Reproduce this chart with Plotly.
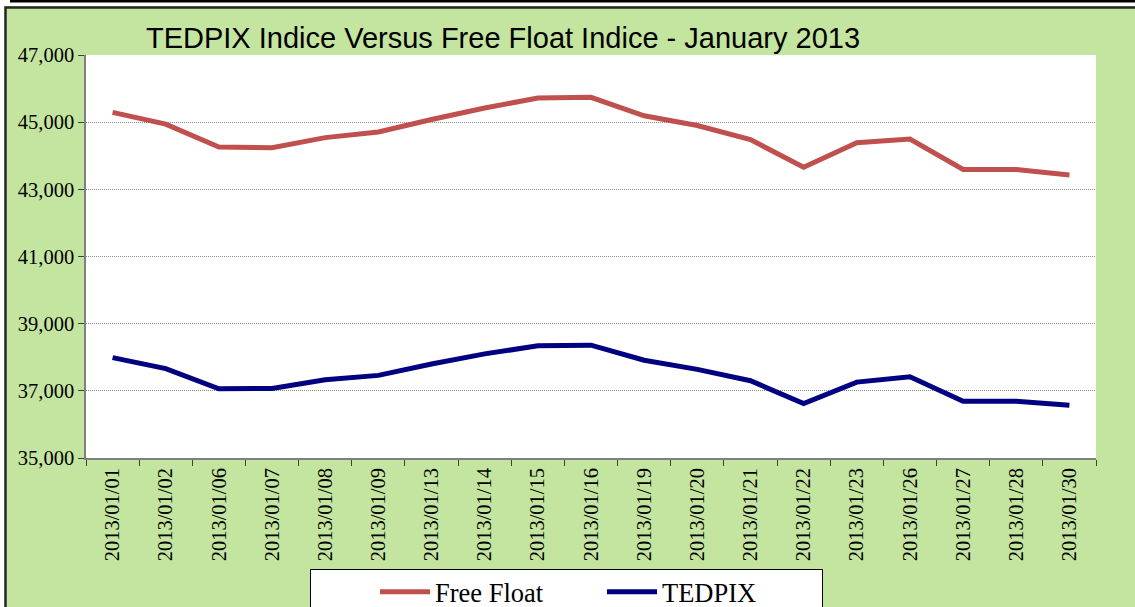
import plotly.graph_objects as go

dates = ["2013/01/01", "2013/01/02", "2013/01/06", "2013/01/07", "2013/01/08",
         "2013/01/09", "2013/01/13", "2013/01/14", "2013/01/15", "2013/01/16",
         "2013/01/19", "2013/01/20", "2013/01/21", "2013/01/22", "2013/01/23",
         "2013/01/26", "2013/01/27", "2013/01/28", "2013/01/30"]
free_float = [45290, 44940, 44260, 44240, 44540, 44710, 45080, 45420, 45720, 45740,
              45190, 44900, 44480, 43660, 44390, 44500, 43590, 43590, 43430]
tedpix = [37990, 37660, 37060, 37070, 37330, 37460, 37800, 38100, 38340, 38360,
          37910, 37640, 37300, 36620, 37260, 37420, 36690, 36690, 36570]
y_ticks = [35000, 37000, 39000, 41000, 43000, 45000, 47000]

W, H = 1135, 607
L, R, T, B = 86, 1096, 55, 458

def px(x):
    return (x - L) / (R - L)

def py(y):
    return (B - y) / (B - T)

fig = go.Figure()
fig.add_trace(go.Scatter(x=dates, y=free_float, mode="lines", name="Free Float",
                         line=dict(color="#C0504D", width=5)))
fig.add_trace(go.Scatter(x=dates, y=tedpix, mode="lines", name="TEDPIX",
                         line=dict(color="#000080", width=5)))

green = "#C4E59F"
shapes = [
    dict(type="rect", xref="paper", yref="paper", x0=px(-10), x1=px(1145), y0=py(6), y1=py(-10),
         fillcolor="white", line=dict(width=0), layer="above"),
    dict(type="rect", xref="paper", yref="paper", x0=px(-10), x1=px(4.5), y0=py(620), y1=py(-10),
         fillcolor="white", line=dict(width=0), layer="above"),
    dict(type="line", xref="paper", yref="paper", x0=px(10), x1=px(1145), y0=py(1.2), y1=py(1.2),
         line=dict(color="black", width=2.5), layer="above"),
    dict(type="rect", xref="paper", yref="paper", x0=px(5.5), x1=px(1150), y0=py(620), y1=py(7.5),
         fillcolor="rgba(0,0,0,0)", line=dict(color="#262626", width=2.5), layer="above"),
    dict(type="rect", xref="paper", yref="paper", x0=px(310.5), x1=px(822.5), y0=py(625), y1=py(569.5),
         fillcolor="white", line=dict(color="black", width=1), layer="above"),
]

serif = "Liberation Serif, Times New Roman, serif"

fig.update_layout(
    width=W, height=H,
    margin=dict(l=L, r=W - R, t=T, b=H - B, pad=0, autoexpand=False),
    paper_bgcolor=green,
    plot_bgcolor="white",
    shapes=shapes,
    showlegend=True,
    title=dict(text="TEDPIX Indice Versus Free Float Indice - January 2013",
               x=503 / W, xref="container", xanchor="center",
               y=1 - 38 / H, yref="container", yanchor="middle",
               font=dict(family="Liberation Sans, Arial", size=29, color="black")),
    legend=dict(orientation="h", x=px(375), xanchor="left", y=py(592), yanchor="middle",
                bgcolor="rgba(0,0,0,0)", borderwidth=0,
                font=dict(family=serif, size=26.5, color="black"),
                itemwidth=50, entrywidth=162, entrywidthmode="pixels", tracegroupgap=0),
    xaxis=dict(type="category", range=[-0.5, len(dates) - 0.5], tickangle=-90,
               showline=True, linecolor="#808080", linewidth=1.5,
               ticks="outside", ticklen=6, tickcolor="#404040", tickwidth=1,
               tickson="boundaries", showgrid=False,
               tickfont=dict(family=serif, size=20.5, color="black")),
    yaxis=dict(range=[35000, 47000], tickvals=y_ticks, tickformat=",",
               showline=True, linecolor="#808080", linewidth=1.5,
               ticks="outside", ticklen=6, tickcolor="#404040", tickwidth=1,
               showgrid=True, gridcolor="#8a8a8a", gridwidth=1, griddash="1px,1px",
               zeroline=False,
               tickfont=dict(family=serif, size=20.5, color="black")),
)

fig.write_html("out.html", config={"displayModeBar": False},
               post_script="document.body.style.margin='0';")
